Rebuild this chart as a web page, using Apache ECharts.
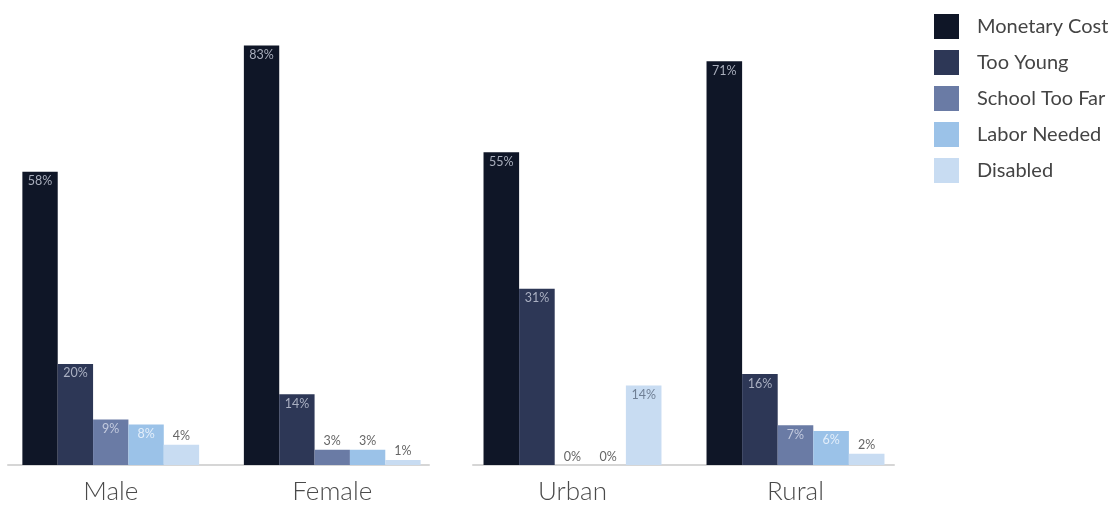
<!DOCTYPE html>
<html>
<head>
<meta charset="utf-8">
<script src="https://cdn.jsdelivr.net/npm/echarts@6/dist/echarts.min.js"></script>
<style>html,body{margin:0;padding:0;background:#fff;}#c{width:1117px;height:506px;}</style>
</head>
<body>
<div id="c"></div>
<script>
const categoriesLeft = ['Male', 'Female'];
const categoriesRight = ['Urban', 'Rural'];
const reasons = ['Monetary Cost', 'Too Young', 'School Too Far', 'Labor Needed', 'Disabled'];
// values in order: Male, Female, Urban, Rural
const monetaryCost = [58, 83, 55, 71];
const tooYoung = [20, 14, 31, 16];
const schoolTooFar = [9, 3, 0, 7];
const laborNeeded = [8, 3, 0, 6];
const disabled = [4, 1, 14, 2];

const values = [monetaryCost, tooYoung, schoolTooFar, laborNeeded, disabled];
const colors = ['#0f1627', '#2d3756', '#6a7ba5', '#9bc2e8', '#c8dcf2'];
const insideLabelColors = ['#a9aebc', '#aab0c2', '#c3cade', '#e3eefa', '#6f7f95'];
const FONT = 'Lato, "Open Sans", sans-serif';

function makeData(arr, idx) {
  return arr.map(v => {
    const small = v < 5;
    return {
      value: v,
      label: {
        position: small ? 'top' : 'insideTop',
        distance: small ? 2 : 3,
        color: small ? '#666' : insideLabelColors[idx]
      }
    };
  });
}

const series = [];
reasons.forEach((name, i) => {
  [0, 1].forEach(g => {
    series.push({
      name: name,
      type: 'bar',
      xAxisIndex: g,
      yAxisIndex: g,
      barGap: '0%',
      barCategoryGap: '20.2%',
      itemStyle: { color: colors[i] },
      label: {
        show: true,
        formatter: '{c}%',
        fontSize: 12.5,
        fontFamily: FONT
      },
      data: makeData(g === 0 ? values[i].slice(0, 2) : values[i].slice(2, 4), i)
    });
  });
});

const chart = echarts.init(document.getElementById('c'), null, { renderer: 'canvas' });
chart.setOption({
  animation: false,
  color: colors,
  legend: {
    orient: 'vertical',
    left: 934,
    top: 14,
    padding: 0,
    itemWidth: 25,
    itemHeight: 25,
    itemGap: 11,
    icon: 'rect',
    data: reasons,
    textStyle: { fontSize: 20, color: '#444', fontFamily: FONT, padding: [0, 0, 0, 13] }
  },
  grid: [
    { left: -3, top: 10, width: 446, height: 455 },
    { left: 461, top: 10, width: 446, height: 455 },
    { left: 8, top: 10, width: 421, height: 455 },
    { left: 473, top: 10, width: 421, height: 455 }
  ],
  xAxis: [0, 1].map(g => ({
    type: 'category',
    gridIndex: g,
    data: g === 0 ? categoriesLeft : categoriesRight,
    axisLine: { show: false },
    axisTick: { show: false },
    axisLabel: { fontSize: 26, color: '#4a4a4a', fontFamily: FONT, fontWeight: 300, margin: 14 }
  })).concat([2, 3].map(g => ({
    type: 'category',
    gridIndex: g,
    data: g === 2 ? categoriesLeft : categoriesRight,
    axisLine: { show: true, lineStyle: { color: '#d6d6d6', width: 2 } },
    axisTick: { show: false },
    axisLabel: { show: false }
  }))),
  yAxis: [
    { type: 'value', gridIndex: 0, min: 0, max: 90, show: false },
    { type: 'value', gridIndex: 1, min: 0, max: 80, show: false },
    { type: 'value', gridIndex: 2, min: 0, max: 90, show: false },
    { type: 'value', gridIndex: 3, min: 0, max: 80, show: false }
  ],
  series: series
});
</script>
</body>
</html>
